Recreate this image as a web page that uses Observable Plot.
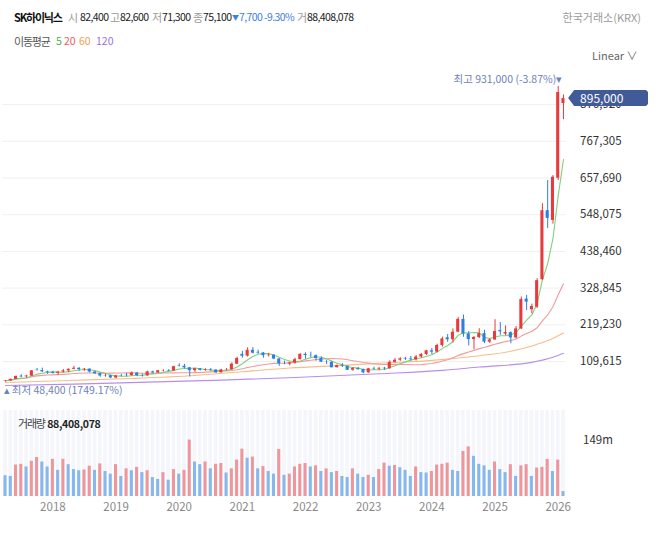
<!DOCTYPE html>
<html><head><meta charset="utf-8">
<script src="https://cdn.jsdelivr.net/npm/d3@7"></script>
<script src="https://cdn.jsdelivr.net/npm/@observablehq/plot@0.6"></script>
<style>
body{margin:0;background:#fff;}
#root{position:relative;width:656px;height:533px;overflow:hidden;background:#fff;font-family:'Noto Sans CJK KR','Noto Sans',sans-serif;}
.t{position:absolute;white-space:nowrap;line-height:14px;font-size:10.5px;z-index:5;}
.h{letter-spacing:-1.2px;font-size:11px;} .n{letter-spacing:-0.6px;font-size:10.5px;}
.g{color:#9a9a9a;} .d{color:#222;} .b{color:#3a80e0;}
#price,#volume{position:absolute;left:0;z-index:1;}
#price{top:60px;} #volume{top:405px;}
#tag{position:absolute;z-index:6;height:16px;line-height:16px;background:#415b99;color:#fff;font-size:12px;
  clip-path:polygon(0 50%,6px 0,calc(100% - 2px) 0,100% 2px,100% calc(100% - 2px),calc(100% - 2px) 100%,6px 100%);box-sizing:border-box;padding-left:12px;}
</style></head><body>
<div id="root">
  <span class="t h" style="left:14px;top:10px;font-weight:700;color:#111;">SK하이닉스</span>
  <span class="t g h" style="left:68px;top:10px;">시</span><span class="t d n" style="left:80px;top:10px;">82,400</span>
  <span class="t g h" style="left:110px;top:10px;">고</span><span class="t d n" style="left:120px;top:10px;">82,600</span>
  <span class="t g h" style="left:152px;top:10px;">저</span><span class="t d n" style="left:162px;top:10px;">71,300</span>
  <span class="t g h" style="left:193px;top:10px;">종</span><span class="t d n" style="left:203px;top:10px;">75,100</span>
  <span class="t b" style="left:232px;top:10px;font-size:7px;">▼</span><span class="t b n" style="left:239px;top:10px;">7,700 -9.30%</span>
  <span class="t g h" style="left:297px;top:10px;">거</span><span class="t d n" style="left:307px;top:10px;">88,408,078</span>
  <span class="t g" style="right:15px;top:10px;font-size:11px;">한국거래소(KRX)</span>
  <span class="t h" style="left:14px;top:34px;color:#555;">이동평균</span>
  <span class="t" style="left:56px;top:34px;color:#3db54a;">5</span>
  <span class="t" style="left:64px;top:34px;color:#ef5b5b;">20</span>
  <span class="t" style="left:79px;top:34px;color:#f0a04b;">60</span>
  <span class="t" style="left:96px;top:34px;color:#9f6fe0;">120</span>
  <span class="t" style="left:592px;top:48px;color:#666;font-size:11px;">Linear ∨</span>
  <span class="t" style="left:18px;top:416px;color:#444;font-size:10.5px;"><span class="h">거래량</span> <b style="color:#222;letter-spacing:-0.3px;">88,408,078</b></span>
</div>
<script>
// ---- data (KRW thousands, volume in millions) ----
const firstMonth = "2017-04";
const monthCount = 107;
const openK = [50.5,51.9,56.1,65.8,63.7,66.0,83.5,82.6,78.5,77.0,
 74.3,77.8,81.4,86.3,89.4,85.2,86.9,78.1,73.1,66.3,
 67.3,60.5,67.4,68.5,67.5,75.0,67.2,66.5,78.6,75.3,
 82.0,82.8,81.4,96.9,95.5,91.0,82.1,87.8,83.3,85.0,
 83.8,75.9,84.0,85.1,101.5,131.0,125.5,143.0,137.0,135.0,
 127.0,128.5,117.0,102.5,102.0,105.5,115.0,131.0,127.5,127.0,
 118.5,107.5,107.0,91.0,97.5,95.5,83.5,88.5,85.5,75.6,
 87.9,86.8,89.5,87.7,107.0,113.5,119.0,117.0,115.0,123.0,
 130.5,141.5,137.5,157.5,180.5,174.5,197.0,235.5,191.8,175.1,
 181.1,193.0,167.5,173.9,202.0,191.5,196.0,180.0,207.0,296.0,
 264.0,272.0,354.0,560.0,531.0,657.0,880.0];
const highK = [52.7,57.6,66.4,70.1,68.5,82.7,88.7,89.8,80.7,80.6,
 80.2,85.8,87.6,95.3,91.3,88.5,88.0,80.6,74.8,72.0,
 68.5,68.1,71.0,74.2,78.5,77.0,72.0,80.5,80.9,82.9,
 84.8,85.1,95.6,103.0,101.0,92.0,89.6,88.6,87.7,89.0,
 85.6,86.1,88.5,106.0,122.5,140.0,150.5,151.0,143.5,136.5,
 134.0,130.0,118.5,110.5,107.5,119.5,133.0,135.5,137.5,129.0,
 123.5,112.5,110.5,99.0,103.5,96.0,91.5,92.0,87.0,89.0,
 92.7,90.7,92.0,111.5,118.2,121.0,122.0,124.5,128.0,133.5,
 143.0,148.5,161.5,182.5,190.0,207.0,241.0,248.5,199.0,184.0,
 207.5,203.0,178.0,234.5,226.0,216.0,198.0,214.0,302.0,307.0,
 281.0,357.0,581.0,650.0,665.0,931.0,906.0];
const lowK = [48.4,50.8,55.7,61.5,59.9,64.8,80.9,77.3,71.0,71.9,
 68.5,75.5,76.0,85.0,80.4,80.5,75.5,70.7,62.4,62.7,
 58.5,57.8,64.0,63.5,66.0,64.5,63.0,65.8,72.9,73.8,
 78.6,79.6,79.7,93.3,87.1,63.3,77.1,81.1,80.3,80.0,
 74.3,75.0,81.5,84.2,100.5,119.5,123.0,132.0,131.5,119.5,
 123.0,115.0,95.0,100.0,96.5,101.5,114.5,116.5,122.0,111.0,
 106.0,100.5,90.0,90.5,92.0,82.5,80.6,83.2,73.1,74.7,
 83.5,82.5,83.3,87.1,104.8,110.0,113.0,110.5,111.5,119.5,
 127.5,130.0,136.0,152.5,167.0,165.0,195.5,182.0,156.1,144.7,
 178.0,163.0,163.5,172.5,188.0,187.0,162.5,177.0,205.0,262.0,
 252.0,268.0,351.0,507.0,520.0,650.0,832.0];
const closeK = [51.9,56.1,64.9,63.7,66.0,81.8,82.6,78.5,76.5,74.3,
 77.8,81.4,86.3,89.4,85.2,86.9,78.1,73.1,66.3,67.3,
 60.5,66.5,66.9,67.5,75.0,67.2,66.5,78.6,75.3,82.0,
 82.8,81.4,94.1,95.5,90.5,82.1,87.8,83.3,85.0,83.8,
 75.9,84.6,85.1,101.5,118.5,125.5,143.0,134.5,135.0,127.0,
 128.5,117.0,102.5,102.0,105.5,115.0,131.0,127.5,127.0,118.5,
 107.5,107.0,91.0,97.5,95.5,83.5,88.5,85.5,75.6,87.9,
 86.8,89.5,87.7,107.0,113.5,117.5,117.0,115.0,123.0,130.5,
 141.5,137.5,157.5,177.0,174.5,197.0,235.5,191.8,175.1,181.1,
 193.0,167.5,173.9,199.2,198.3,196.0,180.0,207.0,295.0,287.0,
 274.0,351.0,560.0,537.0,660.0,913.0,895.0];
const volM = [55,53,83,85,78,93,103,91,78,98,
 69,98,84,71,68,70,80,69,86,66,
 59,84,53,73,68,77,63,68,50,45,
 63,43,71,59,69,149,91,84,91,73,
 85,87,62,73,96,125,101,104,73,79,
 66,59,124,56,59,78,85,87,78,81,
 66,73,63,66,53,50,73,59,50,56,
 50,71,88,80,82,76,69,53,78,63,
 62,66,83,85,88,69,66,119,131,106,
 85,81,69,91,71,63,84,53,81,84,
 53,75,77,98,66,96,13];
// longer moving averages
const ma60Months = ["2017-04","2018-04","2019-04","2020-04","2021-01","2021-10","2022-08","2023-04","2024-01","2024-10","2025-04","2025-08","2025-11","2026-02"];
const ma60K = [47,53,59,68,79,90,98,105,113,127,140,156,172,195];
const ma120Months = ["2017-04","2018-05","2019-07","2020-09","2021-11","2023-03","2024-03","2024-10","2025-08","2025-12","2026-02"];
const ma120K = [38,42,48,54,62,73,83,93,107,122,134];
const priceTicks = [109615,219230,328845,438460,548075,657690,767305,876920];
const volTicks = [149e6];
const volTickLabels = ["149m"];

// ---- build ----
const fmtM = d3.utcFormat("%Y-%m");
const start = d3.utcParse("%Y-%m")(firstMonth);
const months = d3.range(monthCount).map(i => fmtM(d3.utcMonth.offset(start, i)));
const table = months.map((m, i) => ({
  month: m, open: openK[i]*1e3, high: highK[i]*1e3, low: lowK[i]*1e3, close: closeK[i]*1e3,
  volume: volM[i]*1e6,
  dir: closeK[i] >= openK[i] ? "up" : "down",
  vdir: i > 0 && volM[i] > volM[i-1] ? "up" : "down"
}));
const ma60 = ma60Months.map((m,i)=>({month:m, v:ma60K[i]*1e3}));
const ma120 = ma120Months.map((m,i)=>({month:m, v:ma120K[i]*1e3}));
const last = table[table.length-1];
const iMax = d3.maxIndex(table, d => d.high);
const iMin = d3.minIndex(table, d => d.low);
const maxRow = table[iMax], minRow = table[iMin];
const f = d3.format(",");
const pctMax = ((last.close/maxRow.high - 1)*100).toFixed(2);
const pctMin = ((last.close/minRow.low - 1)*100).toFixed(2);

const W = 656, ML = 2.37, MR = 90.4;
const FONT = "'Noto Sans CJK KR','Noto Sans',sans-serif";
const UP = "#e8393e", DOWN = "#2d7ee2";

const price = Plot.plot({
  width: W, height: 345, marginLeft: ML, marginRight: MR, marginTop: 0, marginBottom: 0,
  style: {fontFamily: FONT, fontSize: "11.5px", color: "#333", background: "transparent", overflow: "visible"},
  x: {type: "band", domain: months, padding: 0, round: false, axis: null},
  y: {domain: [-21804, 1008642], axis: "right", ticks: priceTicks, tickFormat: f, tickSize: 0, tickPadding: 14, label: null},
  color: {type: "ordinal", domain: ["up","down"], range: [UP, DOWN]},
  marks: [
    Plot.ruleY(priceTicks, {stroke: "#f0f0f0"}),
    Plot.lineY(ma120, {x: "month", y: "v", stroke: "#b98cf0", strokeWidth: 1.1, curve: "monotone-x"}),
    Plot.lineY(ma60, {x: "month", y: "v", stroke: "#f6bd8a", strokeWidth: 1.1, curve: "monotone-x"}),
    Plot.lineY(table, Plot.windowY({k: 20, anchor: "end", reduce: "mean"}, {x: "month", y: "close", stroke: "#f29a9a", strokeWidth: 1.1})),
    Plot.lineY(table, Plot.windowY({k: 5, anchor: "end", reduce: "mean"}, {x: "month", y: "close", stroke: "#82cf7c", strokeWidth: 1.1})),
    Plot.ruleX(table, {x: "month", y1: "low", y2: "high", stroke: "dir", strokeWidth: 1}),
    Plot.barY(table, {x: "month", y1: "open", y2: "close", fill: "dir", insetLeft: 1.1, insetRight: 1.1}),
    Plot.text([maxRow], {x: "month", y: "high", text: d => `최고 ${f(d.high)} (${pctMax}%)▾`, textAnchor: "end", dx: 4, dy: -7, fill: "#6f82b8", fontSize: 10.5}),
    Plot.text([minRow], {x: "month", y: "low", text: d => `▴ 최저 ${f(d.low)} (${pctMin}%)`, textAnchor: "start", dx: -2, dy: 9, fill: "#6f82b8", fontSize: 10.5})
  ]
});
price.id = "price";

const volume = Plot.plot({
  width: W, height: 125, marginLeft: ML, marginRight: MR, marginTop: 5, marginBottom: 34,
  style: {fontFamily: FONT, fontSize: "11.5px", color: "#333", background: "transparent", overflow: "visible"},
  x: {type: "band", domain: months, padding: 0, round: false, tickSize: 0, tickPadding: 6, label: null,
      tickFormat: m => m.endsWith("-01") ? m.slice(0, 4) : ""},
  y: {domain: [0, 227e6], axis: "right", ticks: volTicks, tickFormat: d => volTickLabels[volTicks.indexOf(d)], tickSize: 0, tickPadding: 17, label: null},
  color: {type: "ordinal", domain: ["up","down"], range: ["#ee969c", "#86b8ee"]},
  marks: [
    Plot.barY(months, {x: d => d, y: () => 227e6, fill: "#f4f6fb", insetLeft: 0.8, insetRight: 0.8}),
    Plot.barY(table, {x: "month", y: "volume", fill: "vdir", insetLeft: 1.1, insetRight: 1.1})
  ]
});
volume.id = "volume";
d3.select(volume).selectAll('[aria-label^="x-axis"]').style("color", "#8a8a8a");

const root = document.getElementById("root");
root.appendChild(price);
root.appendChild(volume);

// current price tag, positioned with the price scales
{
  const ys = price.scale("y"), xs = price.scale("x");
  const yv = ys.apply(last.close);
  const left = xs.range[1] + 2.5;
  const tag = document.createElement("div");
  tag.id = "tag";
  tag.textContent = f(last.close);
  tag.style.left = left + "px";
  tag.style.width = (W - 8 - left) + "px";
  tag.style.top = (60 + yv - 8) + "px";
  root.appendChild(tag);
}
</script></body></html>
